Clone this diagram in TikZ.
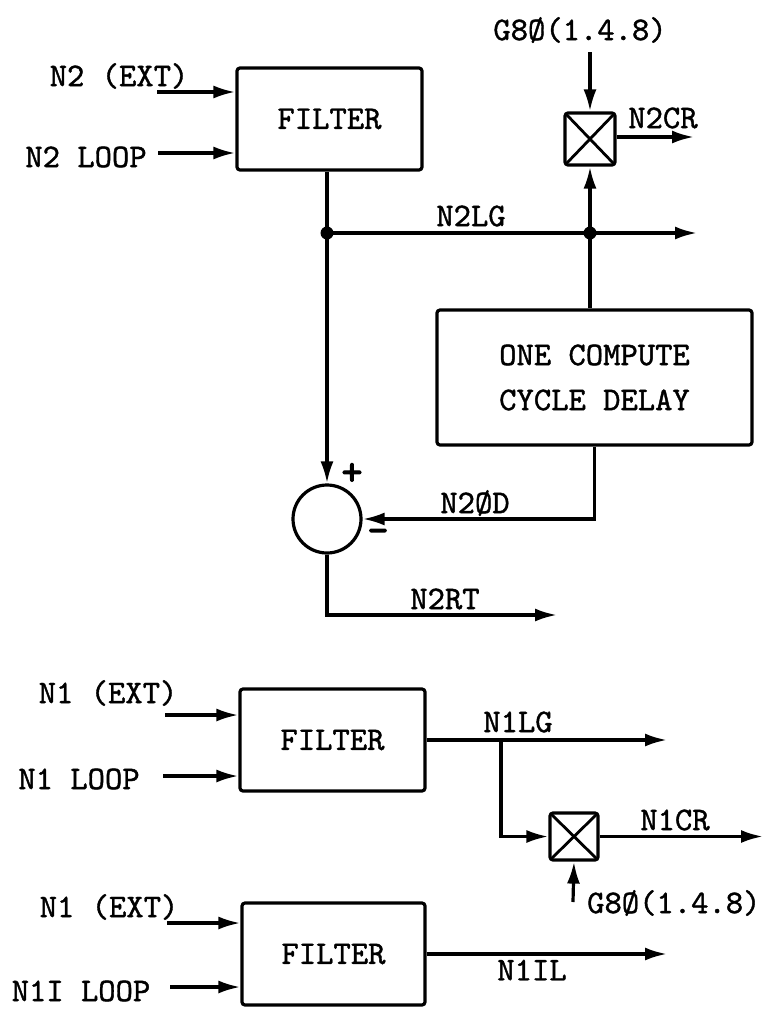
\documentclass[tikz,border=0pt]{standalone}
\usepackage{fontspec}
\newfontfamily\tw[FakeBold=1.2]{lmmono10-regular.otf}
\newfontfamily\twb[FakeBold=3]{lmmono10-regular.otf}
\usetikzlibrary{arrows.meta}
\tikzset{
  wire/.style={line width=3.2pt},
  arr/.style={wire,-{Latex[length=22pt,width=13pt]}},
  lbl/.style={font=\tw\fontsize{33}{40}\selectfont, inner sep=0pt},
  sgn/.style={font=\twb\fontsize{40}{44}\selectfont, inner sep=0pt},
  blk/.style={draw, line width=3.2pt, rounded corners=3pt, inner sep=0pt,
    font=\tw\fontsize{33}{45}\selectfont, align=center},
  mult/.style={draw, line width=3.2pt, rounded corners=3pt, inner sep=0pt,
    path picture={\draw[line width=2.8pt] (path picture bounding box.south west) -- (path picture bounding box.north east)
      (path picture bounding box.north west) -- (path picture bounding box.south east);}},
  sumj/.style={draw, circle, line width=3.2pt, minimum size=68pt, inner sep=0pt},
  dot/.style={circle, fill, minimum size=13pt, inner sep=0pt}
}
\begin{document}
\begin{tikzpicture}[x=1pt,y=-1pt]
\useasboundingbox (0,0) rectangle (763,1010);
% ---------- upper section ----------
\node[blk, minimum width=185pt, minimum height=102pt] (f1) at (329.5,119) {FILTER};
\node[lbl] (l2ext) at (119,76) {N2 (EXT)};
\node[lbl] (l2loop) at (86,157) {N2 LOOP};
\coordinate (e2ext) at (157,92);
\coordinate (e2loop) at (158,153);
\draw[arr] (e2ext) -- (e2ext -| f1.west);
\draw[arr] (e2loop) -- (e2loop -| f1.west);

\node[blk, minimum width=315pt, minimum height=135pt] (dly) at (594.5,377.5) {ONE COMPUTE\\CYCLE DELAY};
\node[mult, minimum width=50pt, minimum height=52pt] (m1) at (590,139) {};
\node[lbl] (lg80a) at (580,30) {G8Ø(1.4.8)};
\coordinate (g80a) at (590,52);
\draw[arr] (g80a) -- (m1.north);
\coordinate (n2cr) at (694,137);
\draw[arr] (m1.east |- n2cr) -- (n2cr);
\node[lbl] (ln2cr) at (663,118) {N2CR};

\node[dot] (j1) at (327,233) {};
\node[dot] (j2) at (590,233) {};
\coordinate (n2lg) at (697,233);
\draw[wire] (j1 |- f1.south) -- (j1.center);
\draw[wire] (j1.center) -- (j2.center);
\draw[arr] (j2.center) -- (n2lg);
\node[lbl] (ln2lg) at (471,216) {N2LG};
\draw[arr] (j2.center) -- (m1.south);
\draw[wire] (j2.center) -- (j2 |- dly.north);

\node[sumj] (sum) at (327,519) {};
\draw[arr] (j1.center) -- (sum.north);
\node[sgn] (plus) at (352,474) {+};
\node[sgn] (minus) at (378,536) {-};
\draw[arr] (dly.south) -- (dly.south |- sum.east) -- (sum.east);
\node[lbl] (ln2od) at (475,503) {N2ØD};
\coordinate (n2rt) at (557,615);
\draw[arr] (sum.south) -- (sum.south |- n2rt) -- (n2rt);
\node[lbl] (ln2rt) at (445,599) {N2RT};

% ---------- middle section ----------
\node[blk, minimum width=185pt, minimum height=102pt] (f2) at (332.5,740) {FILTER};
\node[lbl] (l1ext) at (108,693) {N1 (EXT)};
\node[lbl] (l1loop) at (79,779) {N1 LOOP};
\coordinate (e1ext) at (165,715);
\coordinate (e1loop) at (163,776);
\draw[arr] (e1ext) -- (e1ext -| f2.west);
\draw[arr] (e1loop) -- (e1loop -| f2.west);
\coordinate (j3) at (501,740);
\coordinate (n1lg) at (667,740);
\draw[arr] (f2.east) -- (n1lg);
\node[lbl] (ln1lg) at (518,722) {N1LG};
\node[mult, minimum width=48pt, minimum height=47pt] (m2) at (574,836.5) {};
\draw[arr] (j3) -- (j3 |- m2.west) -- (m2.west);
\coordinate (n1cr) at (763,836.5);
\draw[arr] (m2.east) -- (n1cr);
\node[lbl] (ln1cr) at (675,820) {N1CR};
\coordinate (g80b) at (573,902);
\draw[arr] (g80b) -- (m2.south);
\node[lbl, anchor=west] (lg80b) at (587,903) {G8Ø(1.4.8)};

% ---------- lower section ----------
\node[blk, minimum width=183pt, minimum height=102pt] (f3) at (333.5,954) {FILTER};
\node[lbl] (l1ext2) at (109,907) {N1 (EXT)};
\node[lbl] (l1iloop) at (81,991) {N1I LOOP};
\coordinate (e1ext2) at (167,923);
\coordinate (e1iloop) at (170,987);
\draw[arr] (e1ext2) -- (e1ext2 -| f3.west);
\draw[arr] (e1iloop) -- (e1iloop -| f3.west);
\coordinate (n1il) at (667,954);
\draw[arr] (f3.east) -- (n1il);
\node[lbl] (ln1il) at (532,970) {N1IL};
\end{tikzpicture}
\end{document}
